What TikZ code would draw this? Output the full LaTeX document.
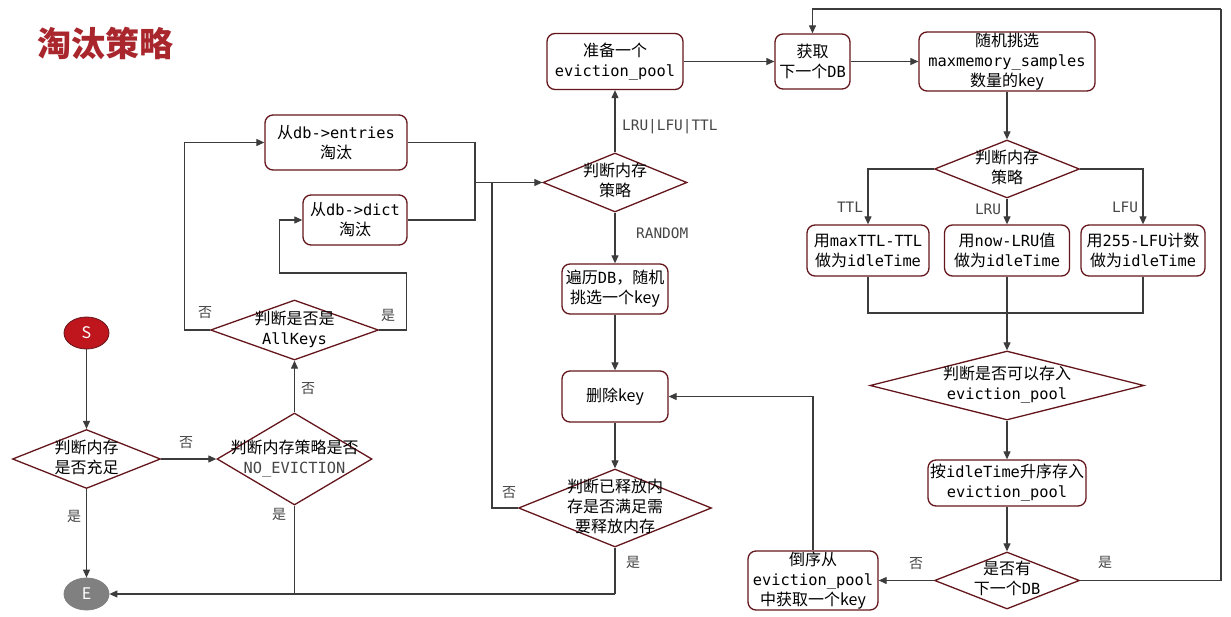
\documentclass[tikz,border=0pt]{standalone}
\usepackage{fontspec}
\setmainfont{Noto Sans CJK SC}
\setmonofont{DejaVu Sans Mono}[Scale=0.96]
\usetikzlibrary{shapes.geometric,arrows.meta}
\definecolor{boxred}{RGB}{100,22,28}
\definecolor{linegray}{RGB}{60,60,60}
\definecolor{textgray}{RGB}{70,70,70}
\definecolor{titlered}{RGB}{168,38,44}
\definecolor{sred}{RGB}{190,22,28}
\definecolor{egray}{RGB}{128,128,128}
\newcommand\dtext[1]{\smash{\makebox[0pt]{\raisebox{-.28em}{\begin{tabular}{@{}c@{}}#1\end{tabular}}}}}
\begin{document}
\begin{tikzpicture}[x=1pt,y=-1pt,
  nodefont/.style={font=\fontsize{16}{20}\selectfont},
  box/.style={draw=boxred, line width=1.3pt, rounded corners=8pt, fill=white, inner sep=0pt, align=center, nodefont},
  dia/.style={draw=boxred, line width=1.3pt, diamond, inner sep=0pt, fill=white, nodefont},
  term/.style={ellipse, draw=boxred, line width=0.8pt, inner sep=0pt, minimum width=45pt, minimum height=32pt, text=white, font=\fontsize{16}{20}\selectfont},
  line/.style={draw=linegray, line width=1.1pt},
  arr/.style={line, -{Triangle[length=8pt,width=7pt]}},
  lab/.style={text=textgray, font=\fontsize{14}{16}\selectfont, inner sep=0pt},
  clab/.style={text=textgray, font=\ttfamily\fontsize{15}{17}\selectfont, inner sep=0pt}
]
\useasboundingbox (0,0) rectangle (1231,616);
\fill[white] (0,0) rectangle (1231,616);

\node[text=titlered, font=\bfseries\fontsize{34}{38}\selectfont, inner sep=0pt] (title) at (105,43) {淘汰策略};

% left part
\node[box, minimum width=142pt, minimum height=55pt] (entries) at (336,142.5) {从\texttt{db->entries}\\淘汰};
\node[box, minimum width=104pt, minimum height=50pt] (dict) at (355,220) {从\texttt{db->dict}\\淘汰};
\node[dia, minimum width=168pt, minimum height=60pt] (allkeys) at (294.5,330) {\dtext{判断是否是\\\texttt{AllKeys}}};
\node[term, fill=sred] (S) at (86.5,333) {S};
\node[term, fill=egray, draw=egray] (E) at (86.5,594) {E};
\node[dia, minimum width=148pt, minimum height=59pt] (d1) at (86.5,459) {\dtext{判断内存\\是否充足}};
\node[dia, minimum width=155pt, minimum height=92pt] (noev) at (294.5,459) {\dtext{判断内存策略是否\\{\color{textgray}\texttt{NO\_EVICTION}}}};

% middle part
\node[dia, minimum width=144pt, minimum height=59pt] (mid) at (615,182.5) {\dtext{判断内存\\策略}};
\node[box, minimum width=136pt, minimum height=56pt] (pool) at (615,61.5) {准备一个\\\texttt{eviction\_pool}};
\node[box, minimum width=106pt, minimum height=50pt] (scan) at (615,289) {遍历\texttt{DB}，随机\\挑选一个key};
\node[box, minimum width=106pt, minimum height=51pt] (del) at (615,396.5) {删除key};
\node[dia, minimum width=193pt, minimum height=78pt] (freed) at (615,508) {\dtext{判断已释放内\\存是否满足需\\要释放内存}};

% right part
\node[box, minimum width=75pt, minimum height=55pt] (next) at (812.5,61.5) {获取\\下一个\texttt{DB}};
\node[box, minimum width=176pt, minimum height=59pt] (sample) at (1007,61.5) {随机挑选\\\texttt{maxmemory\_samples}\\数量的key};
\node[dia, minimum width=145pt, minimum height=58pt] (rdia) at (1007,169) {\dtext{判断内存\\策略}};
\node[box, minimum width=122pt, minimum height=51pt] (ttl) at (868,250.5) {用\texttt{maxTTL-TTL}\\做为\texttt{idleTime}};
\node[box, minimum width=125pt, minimum height=51pt] (lru) at (1007,250.5) {用\texttt{now-LRU}值\\做为\texttt{idleTime}};
\node[box, minimum width=124pt, minimum height=51pt] (lfu) at (1143,250.5) {用\texttt{255-LFU}计数\\做为\texttt{idleTime}};
\node[dia, minimum width=274pt, minimum height=69pt] (store) at (1007,385.5) {\dtext{判断是否可以存入\\\texttt{eviction\_pool}}};
\node[box, minimum width=158pt, minimum height=46pt] (asc) at (1007,483) {按\texttt{idleTime}升序存入\\\texttt{eviction\_pool}};
\node[dia, minimum width=145pt, minimum height=57pt] (hasnext) at (1007,580.5) {\dtext{是否有\\下一个\texttt{DB}}};
\node[box, minimum width=130pt, minimum height=59pt] (rev) at (813,580.5) {倒序从\\\texttt{eviction\_pool}\\中获取一个key};

% junctions
\coordinate (j1) at (475,182.5);
\coordinate (j2) at (492,182.5);
\coordinate (j3) at (1007,313);
\coordinate (ebot) at (615,594);
\coordinate (tr) at (1221,9);

% left connectors
\draw[arr] (S) -- (d1.north);
\draw[arr] (d1.east) -- (noev.west);
\draw[arr] (d1.south) -- (E.north);
\draw[arr] (noev.north) -- (allkeys.south);
\draw[line] (noev.south) -- (noev.south |- ebot);
\draw[arr] (allkeys.west) -- ++(-25,0) |- (entries.west);
\draw[arr] (allkeys.east) -- ++(27,0) -- ++(0,-57) -| ++(-127,0) |- (dict.west);
\draw[line] (entries.east) -| (j1);
\draw[line] (dict.east) -| (j1);
\draw[arr] (j1) -- (mid.west);
\draw[line] (freed.west) -| (j2);
\draw[line] (freed.south) -- (ebot);
\draw[arr] (ebot) -- (E.east);

% middle connectors
\draw[arr] (mid.north) -- (pool.south);
\draw[arr] (mid.south) -- (scan.north);
\draw[arr] (scan.south) -- (del.north);
\draw[arr] (del.south) -- (freed.north);
\draw[arr] (rev.north) |- (del.east);

% right connectors
\draw[arr] (pool.east) -- (next.west);
\draw[arr] (next.east) -- (sample.west);
\draw[arr] (sample.south) -- (rdia.north);
\draw[arr] (rdia.west) -| (ttl.north);
\draw[arr] (rdia.south) -- (lru.north);
\draw[arr] (rdia.east) -| (lfu.north);
\draw[line] (ttl.south) |- (j3);
\draw[line] (lfu.south) |- (j3);
\draw[line] (lru.south) -- (j3);
\draw[arr] (j3) -- (store.north);
\draw[arr] (store.south) -- (asc.north);
\draw[arr] (asc.south) -- (hasnext.north);
\draw[arr] (hasnext.west) -- (rev.east);
\draw[line] (hasnext.east) -| (tr);
\draw[arr] (tr) -| (next.north);

% labels
\node[lab] (l1) at (186,443) {否};
\node[lab] (l2) at (74,516) {是};
\node[lab] (l3) at (308,389) {否};
\node[lab] (l4) at (279,514) {是};
\node[lab] (l5) at (205,313) {否};
\node[lab] (l6) at (388,315) {是};
\node[lab] (l7) at (509,493) {否};
\node[lab] (l8) at (633,562) {是};
\node[lab] (l9) at (916,564) {否};
\node[lab] (l10) at (1105,562) {是};
\node[clab, anchor=west] (lc1) at (622,127) {LRU|LFU|TTL};
\node[clab, anchor=west] (lc2) at (636,233) {RANDOM};
\node[clab] (lc3) at (850,207) {TTL};
\node[clab] (lc4) at (988,209) {LRU};
\node[clab] (lc5) at (1125,207) {LFU};
\end{tikzpicture}
\end{document}
